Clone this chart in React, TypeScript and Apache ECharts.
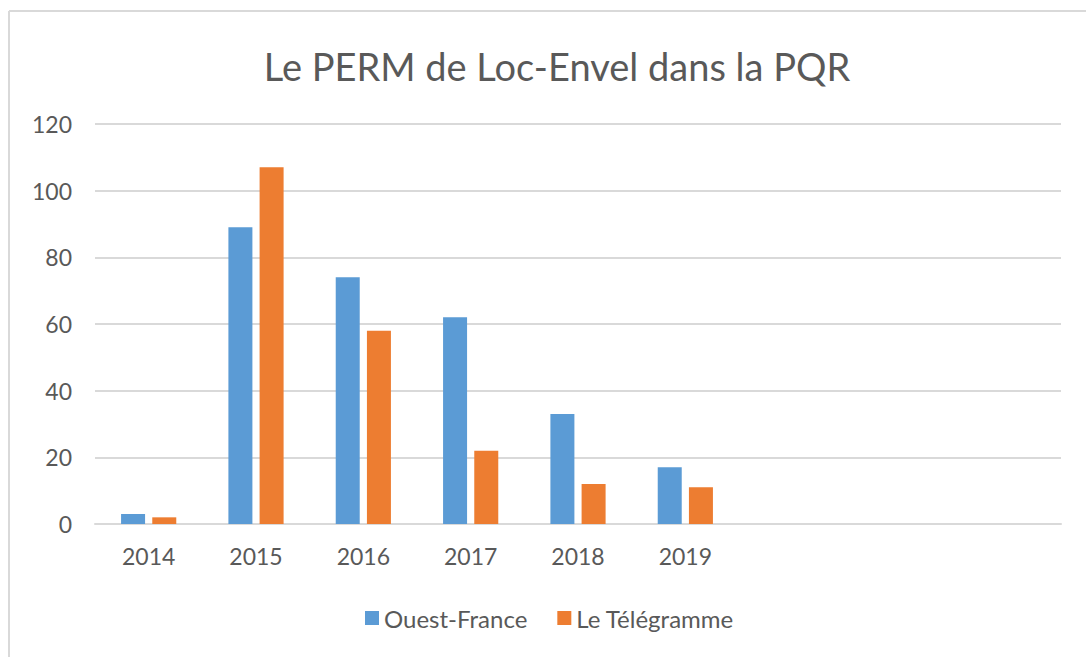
import React, { useEffect, useRef } from "react";
import * as echarts from "echarts";

const title = "Le PERM de Loc-Envel dans la PQR";
const categories = ["2014", "2015", "2016", "2017", "2018", "2019", "", "", ""];
const ouestFrance = [3, 89, 74, 62, 33, 17];
const leTelegramme = [2, 107, 58, 22, 12, 11];
const yTicks = { min: 0, max: 120, interval: 20 };

const FONT = "Lato";
const TEXT = "#595959";
const GRID = "#d9d9d9";

export default function App() {
  const ref = useRef<HTMLDivElement>(null);
  useEffect(() => {
    if (!ref.current) return;
    const chart = echarts.init(ref.current, undefined, { renderer: "svg" });
    chart.setOption({
      animation: false,
      backgroundColor: "#ffffff",
      textStyle: { fontFamily: FONT },
      title: {
        text: title,
        left: 552,
        textAlign: "center",
        top: 42,
        textStyle: { fontFamily: FONT, fontSize: 38, fontWeight: "normal", color: TEXT },
      },
      graphic: [
        { type: "line", shape: { x1: 9, y1: 11, x2: 1086, y2: 11 }, style: { stroke: GRID, lineWidth: 2 } },
        { type: "line", shape: { x1: 9, y1: 11, x2: 9, y2: 657 }, style: { stroke: GRID, lineWidth: 2 } },
      ],
      legend: {
        left: 360,
        top: 601,
        itemWidth: 14,
        itemHeight: 14,
        itemGap: 30,
        icon: "rect",
        textStyle: { fontFamily: FONT, fontSize: 24, color: TEXT, padding: [0, 0, 0, 0] },
        data: ["Ouest-France", "Le Télégramme"],
      },
      grid: { left: 95, right: 25, top: 124, bottom: 133, containLabel: false },
      xAxis: {
        type: "category",
        data: categories,
        axisLine: { show: true, lineStyle: { color: GRID, width: 2 } },
        axisTick: { show: false },
        axisLabel: { fontFamily: FONT, fontSize: 23, color: TEXT, margin: 20 },
      },
      yAxis: {
        type: "value",
        min: yTicks.min,
        max: yTicks.max,
        interval: yTicks.interval,
        axisLine: { show: false },
        axisTick: { show: false },
        splitLine: { lineStyle: { color: GRID, width: 2 } },
        axisLabel: { fontFamily: FONT, fontSize: 23, color: TEXT, margin: 23 },
      },
      series: [
        {
          name: "Ouest-France",
          type: "bar",
          data: ouestFrance,
          barWidth: 24,
          barGap: "30%",
          itemStyle: { color: "#5b9bd5" },
        },
        {
          name: "Le Télégramme",
          type: "bar",
          data: leTelegramme,
          barWidth: 24,
          barGap: "30%",
          itemStyle: { color: "#ed7d31" },
        },
      ],
    });
    return () => chart.dispose();
  }, []);
  return (
    <div
      ref={ref}
      style={{ position: "absolute", left: 0, top: 0, width: 1086, height: 657 }}
    />
  );
}
